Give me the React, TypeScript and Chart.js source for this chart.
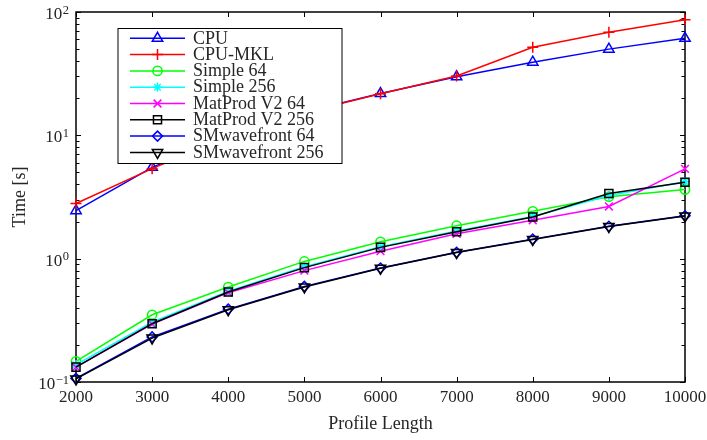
import React, { useEffect, useRef } from 'react';
import { Chart, registerables, PointElement } from 'chart.js';

Chart.register(...registerables);

// Profile lengths on the x axis
const profileLengths = [2000, 3000, 4000, 5000, 6000, 7000, 8000, 9000, 10000];

// Run times in seconds
const cpu = [2.45, 5.5, 10, 15.5, 21.8, 29.8, 39.2, 50, 61.2];
const cpuMkl = [2.8, 5.37, 9.8, 15.3, 21.7, 30.3, 51.7, 68.4, 86.7];
const simple64 = [0.147, 0.351, 0.589, 0.95, 1.37, 1.85, 2.42, 3.18, 3.63];
const simple256 = [0.138, 0.305, 0.545, 0.86, 1.25, 1.68, 2.2, 3.25, 4.2];
const matProdV2_64 = [0.132, 0.295, 0.53, 0.8, 1.15, 1.59, 2.05, 2.65, 5.34];
const matProdV2_256 = [0.132, 0.297, 0.537, 0.846, 1.235, 1.655, 2.18, 3.37, 4.16];
const smWavefront64 = [0.107, 0.232, 0.39, 0.596, 0.84, 1.125, 1.44, 1.83, 2.23];
const smWavefront256 = [0.106, 0.227, 0.385, 0.59, 0.835, 1.12, 1.43, 1.82, 2.22];

// Decade exponents labelled on the log axis
const yDecades = [-1, 0, 1, 2];

const SERIF = '"Liberation Serif", "Times New Roman", serif';
const TEXT = '#262626';

type Series = {
  label: string;
  values: number[];
  color: string;
  pointStyle: string;
  radius: number;
  rotation?: number;
};

const series: Series[] = [
  { label: 'CPU', values: cpu, color: '#0000ff', pointStyle: 'triangle', radius: 6 },
  { label: 'CPU-MKL', values: cpuMkl, color: '#ff0000', pointStyle: 'cross', radius: 5.5 },
  { label: 'Simple 64', values: simple64, color: '#00ff00', pointStyle: 'circle', radius: 4.6 },
  { label: 'Simple 256', values: simple256, color: '#00ffff', pointStyle: 'star', radius: 4.6 },
  { label: 'MatProd V2 64', values: matProdV2_64, color: '#ff00ff', pointStyle: 'crossRot', radius: 5.5 },
  { label: 'MatProd V2 256', values: matProdV2_256, color: '#000000', pointStyle: 'rect', radius: 5.7 },
  { label: 'SMwavefront 64', values: smWavefront64, color: '#0000ff', pointStyle: 'rectRot', radius: 5 },
  { label: 'SMwavefront 256', values: smWavefront256, color: '#000000', pointStyle: 'triangle', radius: 6, rotation: 180 },
];

// Boxed axes with inward ticks and 10^n labels on the log axis
const frame = {
  id: 'frame',
  beforeDatasetsDraw(chart: any) {
    const { ctx, chartArea: a, scales } = chart;
    const xs = scales.x;
    const ys = scales.y;
    ctx.save();
    ctx.strokeStyle = '#000';
    ctx.lineWidth = 1.5;
    ctx.strokeRect(a.left, a.top, a.right - a.left, a.bottom - a.top);
    ctx.lineWidth = 1;
    ctx.beginPath();
    for (const v of profileLengths) {
      const x = Math.round(xs.getPixelForValue(v)) + 0.5;
      ctx.moveTo(x, a.bottom);
      ctx.lineTo(x, a.bottom - 5);
      ctx.moveTo(x, a.top);
      ctx.lineTo(x, a.top + 5);
    }
    for (let d = -1; d <= 2; d++) {
      for (let m = 1; m <= 9; m++) {
        if (d === 2 && m > 1) break;
        const y = Math.round(ys.getPixelForValue(m * Math.pow(10, d))) + 0.5;
        const len = m === 1 ? 5 : 3.5;
        ctx.moveTo(a.left, y);
        ctx.lineTo(a.left + len, y);
        ctx.moveTo(a.right, y);
        ctx.lineTo(a.right - len, y);
      }
    }
    ctx.stroke();

    ctx.fillStyle = TEXT;
    ctx.textAlign = 'right';
    ctx.textBaseline = 'middle';
    const right = a.left - 7;
    for (const d of yDecades) {
      const y = ys.getPixelForValue(Math.pow(10, d));
      const exp = d < 0 ? '\u2212' + String(-d) : String(d);
      ctx.font = `12.5px ${SERIF}`;
      const ew = ctx.measureText(exp).width;
      ctx.fillText(exp, right, y - 1.5);
      ctx.font = `17px ${SERIF}`;
      ctx.fillText('10', right - ew - 0.5, y + 2.5);
    }
    ctx.restore();
  },
};

// Legend box in the upper left of the plot
const legendBox = {
  id: 'legendBox',
  afterDatasetsDraw(chart: any) {
    const { ctx } = chart;
    const left = 118;
    const top = 28.5;
    const right = 342;
    const bottom = 163.5;
    ctx.save();
    ctx.fillStyle = '#fff';
    ctx.fillRect(left, top, right - left, bottom - top);
    ctx.strokeStyle = '#000';
    ctx.lineWidth = 1;
    ctx.strokeRect(left, top, right - left, bottom - top);
    series.forEach((s, i) => {
      const y = 38.3 + i * 16.3;
      ctx.strokeStyle = s.color;
      ctx.lineWidth = 1.5;
      ctx.beginPath();
      ctx.moveTo(130, y);
      ctx.lineTo(185, y);
      ctx.stroke();
      const meta = chart.getDatasetMeta(i);
      const ref = meta.data[0];
      if (ref) {
        const marker = new PointElement({ x: 157.5, y, options: ref.options } as any);
        marker.draw(ctx);
      }
      ctx.fillStyle = TEXT;
      ctx.font = `18px ${SERIF}`;
      ctx.textAlign = 'left';
      ctx.textBaseline = 'middle';
      ctx.fillText(s.label, 193, y + 0.5);
    });
    ctx.restore();
  },
};

export default function App() {
  const canvasRef = useRef<HTMLCanvasElement | null>(null);

  useEffect(() => {
    const canvas = canvasRef.current;
    if (!canvas) return;
    const chart = new Chart(canvas, {
      type: 'line',
      data: {
        datasets: series.map((s, i) => ({
          label: s.label,
          data: profileLengths.map((x, k) => ({ x, y: s.values[k] })),
          borderColor: s.color,
          backgroundColor: 'rgba(0,0,0,0)',
          borderWidth: 1.5,
          pointStyle: s.pointStyle as any,
          pointRadius: s.radius,
          pointRotation: s.rotation ?? 0,
          pointBorderColor: s.color,
          pointBackgroundColor: 'rgba(0,0,0,0)',
          pointBorderWidth: 1.5,
          tension: 0,
          fill: false,
          clip: false as any,
          order: series.length - i,
        })),
      },
      options: {
        animation: false,
        responsive: false,
        events: [],
        layout: { autoPadding: false, padding: { left: 0, right: 22, top: 12, bottom: 0 } } as any,
        plugins: {
          legend: { display: false },
          tooltip: { enabled: false },
        },
        scales: {
          x: {
            type: 'linear',
            min: 2000,
            max: 10000,
            grid: { display: false, drawTicks: false },
            border: { display: false },
            ticks: {
              stepSize: 1000,
              maxRotation: 0,
              autoSkip: false,
              padding: 5,
              color: TEXT,
              font: { family: SERIF, size: 17 },
              callback: (v: any) => String(v),
            },
            title: {
              display: true,
              text: 'Profile Length',
              color: TEXT,
              font: { family: SERIF, size: 18 },
              padding: { top: 0, bottom: 4.7 },
            },
            afterFit: (s: any) => {
              s.height = 58;
              s.paddingLeft = 0;
              s.paddingRight = 0;
            },
          },
          y: {
            type: 'logarithmic',
            min: 0.1,
            max: 100,
            grid: { display: false, drawTicks: false },
            border: { display: false },
            ticks: { display: false },
            title: {
              display: true,
              text: 'Time [s]',
              color: TEXT,
              font: { family: SERIF, size: 18 },
              padding: { top: 9, bottom: 0 },
            },
            afterFit: (s: any) => {
              s.width = 76;
              s.paddingTop = 0;
              s.paddingBottom = 0;
            },
          },
        },
      },
      plugins: [frame, legendBox],
    });
    return () => chart.destroy();
  }, []);

  return (
    <div style={{ position: 'fixed', left: 0, top: 0, width: 707, height: 440, background: '#fff' }}>
      <canvas ref={canvasRef} width={707} height={440} style={{ display: 'block', width: 707, height: 440 }} />
    </div>
  );
}
